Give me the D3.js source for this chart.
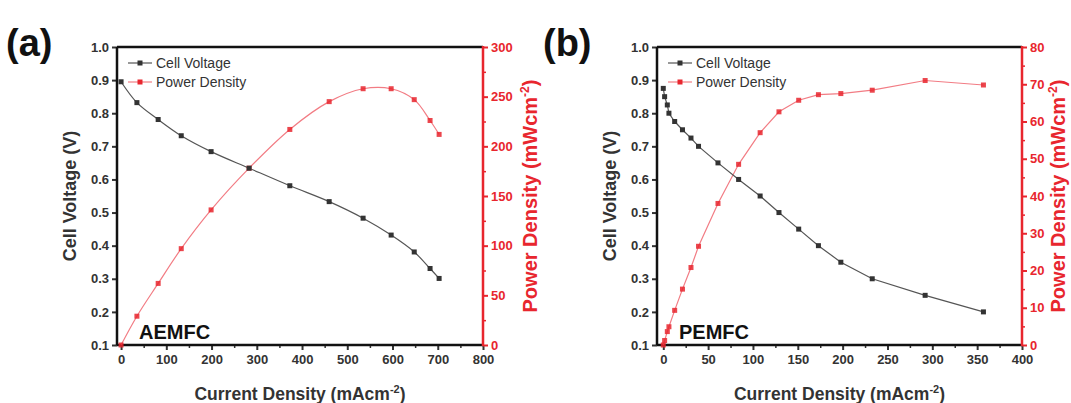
<!DOCTYPE html>
<meta charset="utf-8">
<style>
body { margin: 0; background: #fff; }
svg { display: block; font-family: "Liberation Sans", Arial, sans-serif; }
.tick text { font-weight: bold; }
</style>
<body>
<div id="chart"></div>
<script src="https://cdn.jsdelivr.net/npm/d3@7"></script>
<script>

var width = 1071,
    height = 403;

// (a) AEMFC
var aCurrent = [0, 35, 82, 133, 199, 283, 373, 460, 535, 597, 648, 683, 703];
var aVoltage = [0.895, 0.832, 0.781, 0.732, 0.684, 0.634, 0.581, 0.533, 0.483, 0.432, 0.381, 0.331, 0.301];
var aPower = [0, 29, 62, 97, 136, 178, 217, 245, 258, 258, 247, 226, 212];

// (b) PEMFC
var bCurrent = [0, 1.5, 4.5, 6.3, 12.7, 21.4, 30.9, 39.3, 61, 84, 108, 129, 151, 173, 198, 233, 292, 357];
var bVoltage = [0.875, 0.85, 0.825, 0.8, 0.775, 0.75, 0.725, 0.7, 0.65, 0.6, 0.55, 0.5, 0.45, 0.4, 0.35, 0.3, 0.25, 0.2];
var bPower = [0, 1.2, 3.6, 4.9, 9.3, 15, 20.8, 26.5, 38, 48.5, 57, 62.6, 65.7, 67.2, 67.5, 68.4, 71, 69.8];

var voltTicks = [0.1, 0.2, 0.3, 0.4, 0.5, 0.6, 0.7, 0.8, 0.9, 1.0];
var legendNames = ["Cell Voltage", "Power Density"];

var red = "#e8262e",
    redLine = "#f27c84",
    dark = "#333";

var svg = d3.select("#chart").append("svg")
    .attr("width", width)
    .attr("height", height);

svg.append("rect").attr("width", width).attr("height", height).attr("fill", "#fff");

var panels = [
  {
    tag: "(a)", name: "AEMFC", tagX: 6,
    left: 117, right: 483, top: 47, bottom: 345,
    xDomain: [-9, 800], xTicks: d3.range(0, 801, 100), xMinor: d3.range(50, 800, 100),
    pDomain: [0, 300], pTicks: d3.range(0, 301, 50), pMinor: d3.range(25, 300, 50),
    current: aCurrent, voltage: aVoltage, power: aPower,
    curve: d3.curveCatmullRom, rightTitleX: 537
  },
  {
    tag: "(b)", name: "PEMFC", tagX: 543,
    left: 657, right: 1022, top: 47, bottom: 345,
    xDomain: [-7, 400], xTicks: d3.range(0, 401, 50), xMinor: d3.range(25, 400, 50),
    pDomain: [0, 80], pTicks: d3.range(0, 81, 10), pMinor: d3.range(5, 80, 10),
    current: bCurrent, voltage: bVoltage, power: bPower,
    curve: d3.curveLinear, rightTitleX: 1065
  }
];

panels.forEach(drawPanel);

function drawPanel(p) {
  var g = svg.append("g");

  var x = d3.scaleLinear().domain(p.xDomain).range([p.left, p.right]);
  var yV = d3.scaleLinear().domain([0.1, 1.0]).range([p.bottom, p.top]);
  var yP = d3.scaleLinear().domain(p.pDomain).range([p.bottom, p.top]);

  // minor ticks first
  g.append("g")
    .attr("transform", "translate(0," + p.bottom + ")")
    .call(d3.axisBottom(x).tickValues(p.xMinor).tickSize(3).tickFormat(""))
    .call(function(s) { s.select(".domain").remove(); s.selectAll("line").attr("stroke", dark).attr("stroke-width", 1.5); });

  g.append("g")
    .attr("transform", "translate(" + p.right + ",0)")
    .call(d3.axisRight(yP).tickValues(p.pMinor).tickSize(3).tickFormat(""))
    .call(function(s) { s.select(".domain").remove(); s.selectAll("line").attr("stroke", red).attr("stroke-width", 1.5); });

  // x axis
  g.append("g")
    .attr("transform", "translate(0," + p.bottom + ")")
    .call(d3.axisBottom(x).tickValues(p.xTicks).tickSize(5).tickSizeOuter(0).tickPadding(5))
    .call(function(s) {
      s.select(".domain").remove();
      s.selectAll("line").attr("stroke", dark).attr("stroke-width", 2);
      s.selectAll("text").attr("fill", dark).style("font-size", "13px");
    });

  // left axis
  g.append("g")
    .attr("transform", "translate(" + p.left + ",0)")
    .call(d3.axisLeft(yV).tickValues(voltTicks).tickFormat(d3.format(".1f")).tickSize(5).tickPadding(3))
    .call(function(s) {
      s.select(".domain").remove();
      s.selectAll("line").attr("stroke", dark).attr("stroke-width", 2);
      s.selectAll("text").attr("fill", dark).style("font-size", "13px");
    });

  // right axis
  g.append("g")
    .attr("transform", "translate(" + p.right + ",0)")
    .call(d3.axisRight(yP).tickValues(p.pTicks).tickSize(5).tickPadding(3))
    .call(function(s) {
      s.select(".domain").remove();
      s.selectAll("line").attr("stroke", red).attr("stroke-width", 2);
      s.selectAll("text").attr("fill", red).style("font-size", "13px");
    });

  // frame
  g.append("line").attr("x1", p.left).attr("x2", p.right).attr("y1", p.top).attr("y2", p.top)
    .attr("stroke", "#111").attr("stroke-width", 2.5);
  g.append("line").attr("x1", p.left).attr("x2", p.right).attr("y1", p.bottom).attr("y2", p.bottom)
    .attr("stroke", "#111").attr("stroke-width", 2.5);
  g.append("line").attr("x1", p.left).attr("x2", p.left).attr("y1", p.top).attr("y2", p.bottom)
    .attr("stroke", "#111").attr("stroke-width", 2.5);
  g.append("line").attr("x1", p.right).attr("x2", p.right).attr("y1", p.top - 1).attr("y2", p.bottom + 1)
    .attr("stroke", red).attr("stroke-width", 2.5);

  var vData = p.current.map(function(c, i) { return [c, p.voltage[i]]; });
  var pData = p.current.map(function(c, i) { return [c, p.power[i]]; });

  g.append("path")
    .datum(pData)
    .attr("fill", "none")
    .attr("stroke", redLine)
    .attr("stroke-width", 1.2)
    .attr("d", d3.line().curve(p.curve).x(function(d) { return x(d[0]); }).y(function(d) { return yP(d[1]); }));

  g.append("path")
    .datum(vData)
    .attr("fill", "none")
    .attr("stroke", "#555")
    .attr("stroke-width", 1.2)
    .attr("d", d3.line().curve(p.curve).x(function(d) { return x(d[0]); }).y(function(d) { return yV(d[1]); }));

  g.selectAll(".pm").data(pData).enter().append("rect")
    .attr("x", function(d) { return x(d[0]) - 2.5; })
    .attr("y", function(d) { return yP(d[1]) - 2.5; })
    .attr("width", 5).attr("height", 5)
    .attr("fill", red).attr("opacity", 0.85);

  g.selectAll(".vm").data(vData).enter().append("rect")
    .attr("x", function(d) { return x(d[0]) - 2.5; })
    .attr("y", function(d) { return yV(d[1]) - 2.5; })
    .attr("width", 5).attr("height", 5)
    .attr("fill", dark);

  // legend
  var lx = p.left + 11;
  legendNames.forEach(function(n, i) {
    var ly = p.top + 16 + i * 19;
    var col = i == 0 ? "#555" : redLine;
    g.append("line").attr("x1", lx).attr("x2", lx + 24).attr("y1", ly).attr("y2", ly)
      .attr("stroke", col).attr("stroke-width", 1.2);
    g.append("rect").attr("x", lx + 12 - 2.5).attr("y", ly - 2.5).attr("width", 5).attr("height", 5)
      .attr("fill", i == 0 ? dark : red);
    g.append("text").attr("x", lx + 28).attr("y", ly + 5)
      .attr("fill", dark).style("font-size", "14px")
      .text(n);
  });

  // in-plot label
  g.append("text").attr("x", p.left + 22).attr("y", p.bottom - 6)
    .attr("fill", "#111").style("font-size", "20px").style("font-weight", "bold")
    .text(p.name);

  // panel tag
  g.append("text").attr("x", p.tagX).attr("y", 56)
    .attr("fill", "#111").style("font-size", "38px").style("font-weight", "bold")
    .text(p.tag);

  // axis titles
  var xt = g.append("text").attr("x", (p.left + p.right) / 2).attr("y", 400)
    .attr("text-anchor", "middle").attr("fill", dark)
    .style("font-size", "17.5px").style("font-weight", "bold");
  xt.append("tspan").text("Current Density (mAcm");
  xt.append("tspan").attr("dy", -7).style("font-size", "11px").text("-2");
  xt.append("tspan").attr("dy", 7).text(")");

  g.append("text")
    .attr("transform", "translate(" + (p.left - 41) + "," + ((p.top + p.bottom) / 2) + ") rotate(-90)")
    .attr("text-anchor", "middle").attr("fill", dark)
    .style("font-size", "18px").style("font-weight", "bold")
    .text("Cell Voltage (V)");

  var rt = g.append("text")
    .attr("transform", "translate(" + p.rightTitleX + "," + ((p.top + p.bottom) / 2) + ") rotate(-90)")
    .attr("text-anchor", "middle").attr("fill", red)
    .style("font-size", "20px").style("font-weight", "bold");
  rt.append("tspan").text("Power Density (mWcm");
  rt.append("tspan").attr("dy", -8).style("font-size", "12px").text("-2");
  rt.append("tspan").attr("dy", 8).text(")");
}
</script>
</body>
